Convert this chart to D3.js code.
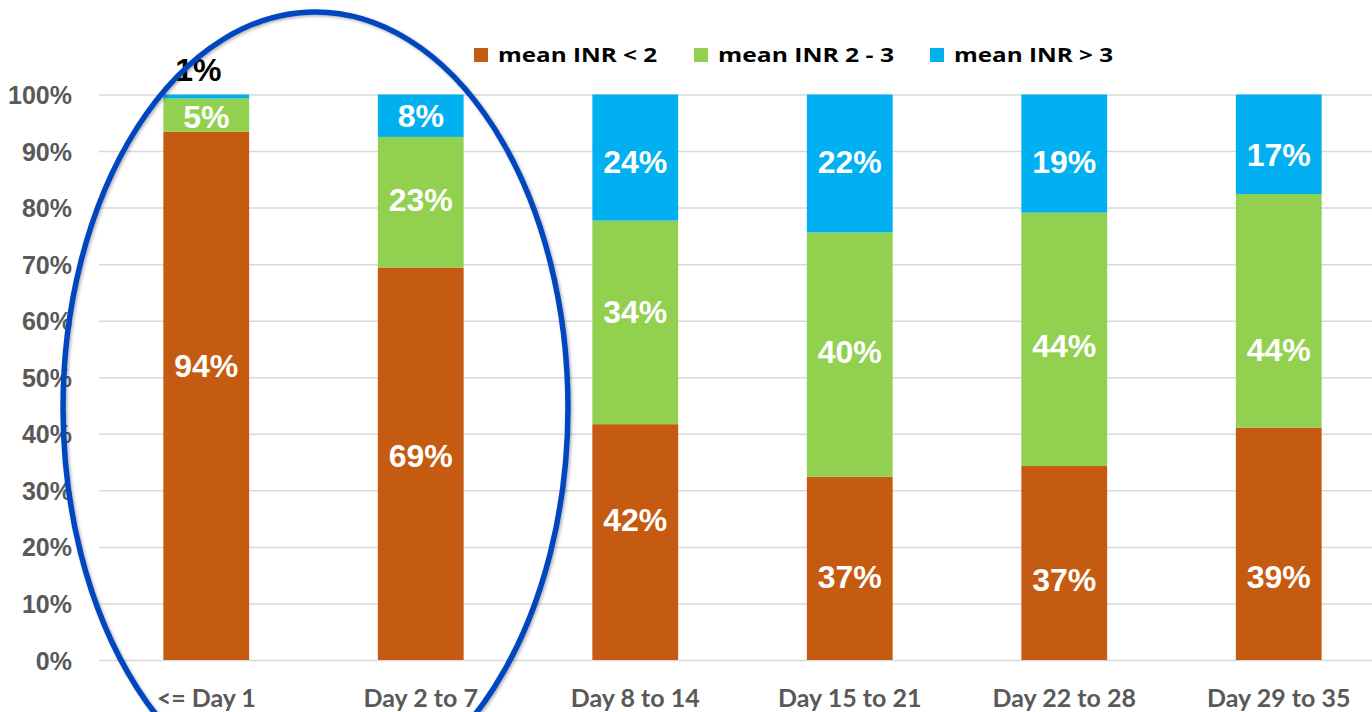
<!DOCTYPE html>
<html>
<head>
<meta charset="utf-8">
<script src="https://d3js.org/d3.v7.min.js"></script>
<style>
  body { margin: 0; background: #fff; }
  svg { display: block; }
</style>
</head>
<body>
<div class="wrapper"></div>
<script>
// data
var categories = ["<= Day 1", "Day 2 to 7", "Day 8 to 14", "Day 15 to 21", "Day 22 to 28", "Day 29 to 35"];
var seriesNames = ["mean INR < 2", "mean INR 2 - 3", "mean INR > 3"];

// bar heights (percent)
var inrLow  = [93.4, 69.4, 41.7, 32.4, 34.3, 41.1];
var inrMid  = [5.9, 23.1, 36.0, 43.2, 44.8, 41.3];
var inrHigh = [0.7, 7.5, 22.3, 24.4, 20.9, 17.6];

// data labels as written on the chart
var labelsLow  = ["94%", "69%", "42%", "37%", "37%", "39%"];
var labelsMid  = ["5%", "23%", "34%", "40%", "44%", "44%"];
var labelsHigh = ["1%", "8%", "24%", "22%", "19%", "17%"];

// level (percent) where each label sits
var levelLow  = [52.1, 36.1, 24.8, 14.7, 14.3, 14.7];
var levelMid  = [96.2, 81.5, 61.7, 54.6, 55.6, 54.9];
var levelHigh = [104.5, 96.3, 88.1, 88.1, 88.1, 89.4];

var yTicks = [0, 10, 20, 30, 40, 50, 60, 70, 80, 90, 100];

var colors = ["#c55a11", "#92d050", "#00b0f0"];

// size of the page
var W = 1372, H = 712;
var margin = {left: 99, right: 1386, top: 94.5, bottom: 660};

var svg = d3.select(".wrapper")
  .append("svg")
    .attr("width", W)
    .attr("height", H);

var x = d3.scaleBand()
  .domain(categories)
  .range([margin.left, margin.right])
  .paddingInner(0.6)
  .paddingOuter(0.3);

var y = d3.scaleLinear()
  .domain([0, 100])
  .range([margin.bottom, margin.top]);

// gridlines + y labels
var yAxis = svg.append("g")
  .attr("transform", "translate(" + margin.left + ",0)")
  .call(d3.axisLeft(y).tickValues(yTicks).tickFormat(function(d) { return d + "%"; })
    .tickSize(-(margin.right - margin.left)).tickPadding(27));
yAxis.select(".domain").remove();
yAxis.selectAll("line").attr("stroke", "#d9d9d9").attr("stroke-width", 1.5);
yAxis.selectAll("text")
  .attr("fill", "#595959")
  .attr("dy", "0.36em")
  .style("font-family", "'Liberation Sans', Arial, sans-serif")
  .style("font-weight", "bold")
  .style("font-size", "25px");

// x labels
var xAxis = svg.append("g")
  .attr("transform", "translate(0," + margin.bottom + ")")
  .call(d3.axisBottom(x).tickSize(0).tickPadding(29));
xAxis.select(".domain").remove();
xAxis.selectAll("text")
  .attr("fill", "#595959")
  .style("font-family", "Lato, 'Open Sans', sans-serif")
  .style("font-weight", "bold")
  .style("font-size", "25px");

// stack the three series
var rows = categories.map(function(c, i) {
  return { cat: c, low: inrLow[i], mid: inrMid[i], high: inrHigh[i] };
});
var stack = d3.stack().keys(["low", "mid", "high"])(rows);

svg.selectAll("g.layer")
  .data(stack)
  .enter()
  .append("g")
    .attr("class", "layer")
    .attr("fill", function(d, i) { return colors[i]; })
  .selectAll("rect")
  .data(function(d) { return d; })
  .enter()
  .append("rect")
    .attr("x", function(d) { return x(d.data.cat); })
    .attr("y", function(d) { return y(d[1]); })
    .attr("width", x.bandwidth())
    .attr("height", function(d) { return y(d[0]) - y(d[1]); });

// data labels (the one above the bar is black and a bit to the left)
var labelSets = [[labelsLow, levelLow], [labelsMid, levelMid], [labelsHigh, levelHigh]];
labelSets.forEach(function(set) {
  svg.append("g")
    .selectAll("text")
    .data(categories)
    .enter()
    .append("text")
      .attr("x", function(d) { return x(d) + x.bandwidth() / 2; })
      .attr("y", function(d, i) { return y(set[1][i]); })
      .attr("dx", function(d, i) { return set[1][i] > 100 ? -8 : 0; })
      .attr("dy", "0.36em")
      .attr("text-anchor", "middle")
      .attr("fill", function(d, i) { return set[1][i] > 100 ? "#000" : "#fff"; })
      .style("font-family", "'Liberation Sans', Arial, sans-serif")
      .style("font-weight", "bold")
      .style("font-size", "32px")
      .text(function(d, i) { return set[0][i]; });
});

// legend
var legendX = [474, 694, 930];
var legendW = [159, 176, 159];
var legend = svg.append("g")
  .selectAll("g")
  .data(seriesNames)
  .enter()
  .append("g")
    .attr("transform", function(d, i) { return "translate(" + legendX[i] + ",0)"; });
legend.append("rect")
  .attr("y", 48)
  .attr("width", 14)
  .attr("height", 14)
  .attr("fill", function(d, i) { return colors[i]; });
legend.append("text")
  .attr("x", 24)
  .attr("y", 62)
  .attr("textLength", function(d, i) { return legendW[i]; })
  .attr("lengthAdjust", "spacingAndGlyphs")
  .attr("fill", "#000")
  .style("font-family", "'Open Sans', sans-serif")
  .style("font-weight", "bold")
  .style("font-size", "20px")
  .text(function(d) { return d; });

// ellipse round the first two days
var defs = svg.append("defs");
var f = defs.append("filter").attr("id", "shadow").attr("x", "-10%").attr("y", "-10%")
  .attr("width", "120%").attr("height", "120%");
f.append("feDropShadow").attr("dx", 1.5).attr("dy", 1.5).attr("stdDeviation", 1.5)
  .attr("flood-color", "#000").attr("flood-opacity", 0.3);

var c0 = x(categories[0]) + x.bandwidth() / 2,
    c1 = x(categories[1]) + x.bandwidth() / 2;
svg.append("ellipse")
  .attr("cx", (c0 + c1) / 2 + 2)
  .attr("cy", y(44.6))
  .attr("rx", x.step() * 1.177)
  .attr("ry", y(0) - y(70))
  .attr("fill", "none")
  .attr("stroke", "#0647bf")
  .attr("stroke-width", 5.5)
  .attr("filter", "url(#shadow)");
</script>
</body>
</html>
